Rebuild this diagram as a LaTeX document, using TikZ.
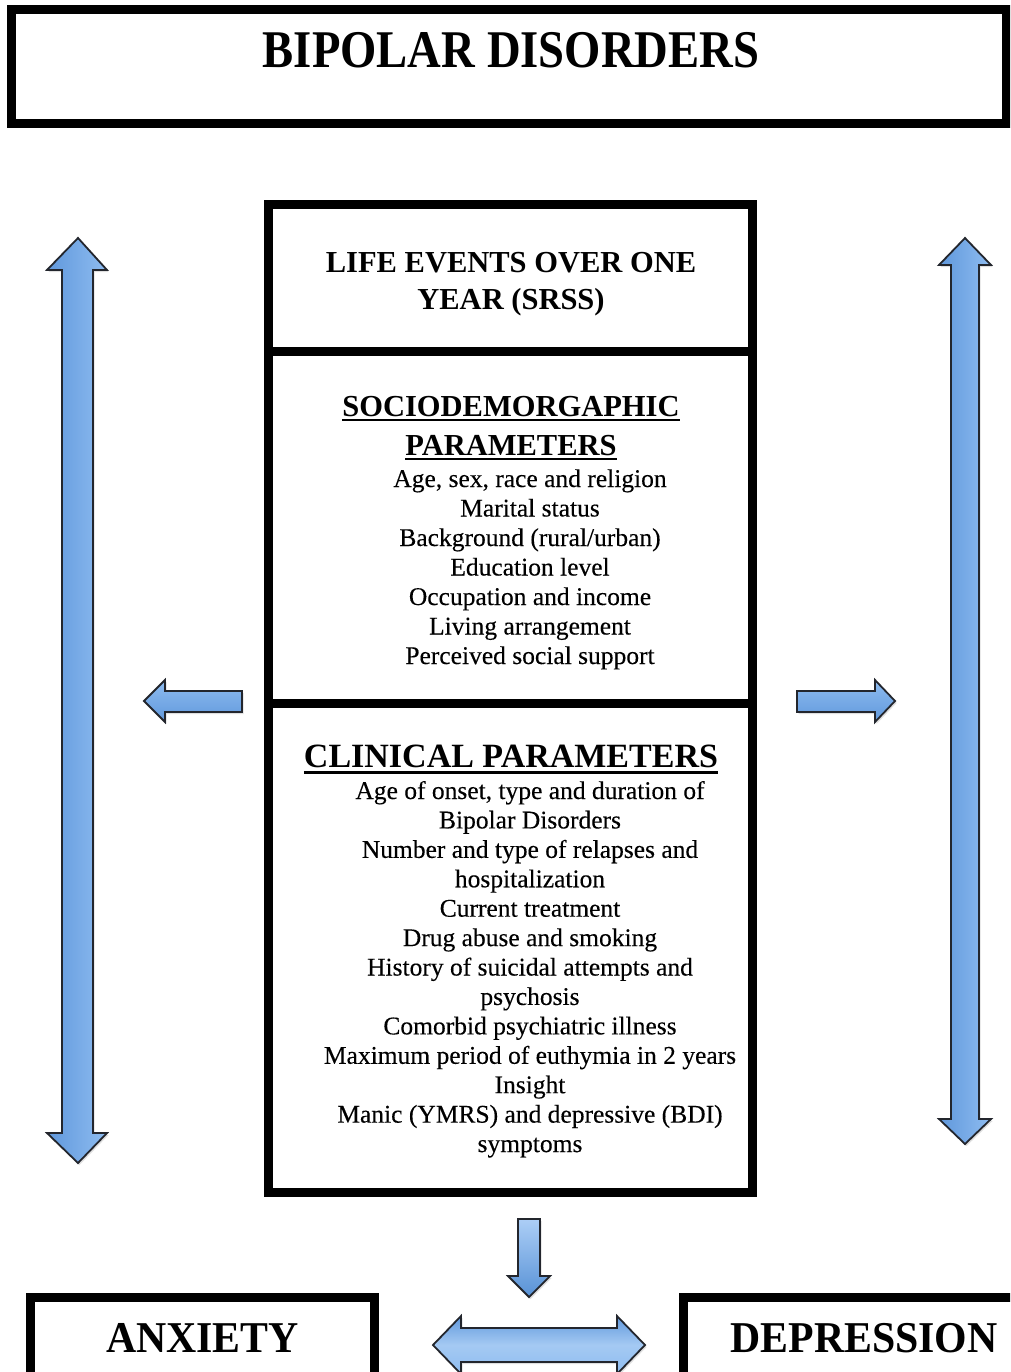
\documentclass[tikz,border=0pt]{standalone}
\usepackage{fontspec}
\usepackage{graphicx}
\setmainfont{Liberation Serif}
\newfontfamily\itemfont[FakeBold=0.25]{Liberation Serif}
\usetikzlibrary{shadows}
\definecolor{arrL}{RGB}{96,152,220}
\definecolor{arrR}{RGB}{142,188,240}
\definecolor{arrTop}{RGB}{172,206,246}
\definecolor{arrBot}{RGB}{88,146,214}
\definecolor{arrEdge}{RGB}{35,38,45}
\tikzset{
  framebox/.style={draw=black, line width=9pt, fill=none, inner sep=0pt, outer sep=0pt},
  txt/.style={inner sep=0pt, outer sep=0pt, anchor=base, text=black},
  head/.style={txt, font=\fontsize{30.5}{36}\selectfont\bfseries},
  item/.style={txt, font=\itemfont\fontsize{25.5}{29.5}\selectfont},
  uline/.style={line width=2pt, black},
  blockarrow/.style={draw=arrEdge, line width=1.8pt, line join=miter,
     drop shadow={opacity=0.25, shadow xshift=1.5pt, shadow yshift=-2pt}},
  varrow/.style={blockarrow, left color=arrL, right color=arrR},
  harrow/.style={blockarrow, top color=arrR, bottom color=arrL},
  darrow/.style={blockarrow, top color=arrTop, bottom color=arrBot},
  dblarrow/.style={blockarrow, top color=arrL, bottom color=arrR, middle color=arrR!80!white}
}
\begin{document}
\begin{tikzpicture}[x=1pt,y=-1pt]
\clip (0,0) rectangle (1010,1372);
\fill[white] (0,0) rectangle (1010,1372);

% title
\node[framebox, minimum width=995pt, minimum height=114pt] (titlebox) at (508.5,67) {};
\node[txt, font=\fontsize{53}{60}\selectfont\bfseries] (title) at (511,68) {\scalebox{0.88}[1]{BIPOLAR DISORDERS}};

% central column boxes
\node[framebox, minimum width=484pt, minimum height=147pt] (life) at (510,278) {};
\node[framebox, minimum width=484pt, minimum height=352pt] (socio) at (510,527.5) {};
\node[framebox, minimum width=484pt, minimum height=488.5pt] (clin) at (510,947.75) {};

% life events
\node[head] (l1) at (511,272) {LIFE EVENTS OVER ONE};
\node[head] (l2) at (511,309) {YEAR (SRSS)};

% sociodemographic
\node[head] (sh1) at (511,416) {SOCIODEMORGAPHIC};
\node[head] (sh2) at (511,455) {PARAMETERS};
\draw[uline] ([yshift=-4pt]sh1.base west) -- ([yshift=-4pt]sh1.base east);
\draw[uline] ([yshift=-4pt]sh2.base west) -- ([yshift=-4pt]sh2.base east);
\foreach \t [count=\i from 0] in {{Age, sex, race and religion},{Marital status},{Background (rural/urban)},{Education level},{Occupation and income},{Living arrangement},{Perceived social support}}
  \node[item] (s\i) at (530,487+29.5*\i) {\t};

% clinical
\node[txt, font=\fontsize{34}{40}\selectfont\bfseries] (ch) at (511,767) {CLINICAL PARAMETERS};
\draw[line width=2.5pt] ([yshift=-5.5pt]ch.base west) -- ([yshift=-5.5pt]ch.base east);
\foreach \t [count=\i from 0] in {{Age of onset, type and duration of},{Bipolar Disorders},{Number and type of relapses and},{hospitalization},{Current treatment},{Drug abuse and smoking},{History of suicidal attempts and},{psychosis},{Comorbid psychiatric illness},{Maximum period of euthymia in 2 years},{Insight},{Manic (YMRS) and depressive (BDI)},{symptoms}}
  \node[item] (c\i) at (530,799+29.42*\i) {\t};

% bottom boxes
\node[framebox, minimum width=344pt, minimum height=122.5pt] (anx) at (202.5,1358.75) {};
\node[framebox, minimum width=376.5pt, minimum height=122.5pt] (dep) at (871.75,1358.75) {};
\node[txt, font=\fontsize{44}{50}\selectfont\bfseries] (anxt) at (202.5,1352) {\scalebox{0.95}[1]{ANXIETY}};
\node[txt, font=\fontsize{44}{50}\selectfont\bfseries] (dept) at (864,1352) {\scalebox{0.95}[1]{DEPRESSION}};

% left vertical double arrow
\draw[varrow] (78,238) -- (107,270) -- (93,270) -- (93,1133) -- (107,1133) -- (78,1163)
  -- (47,1133) -- (62,1133) -- (62,270) -- (47,270) -- cycle;
% right vertical double arrow
\draw[varrow] (965,238) -- (991,265) -- (979,265) -- (979,1119) -- (991,1119) -- (965,1144)
  -- (939,1119) -- (951,1119) -- (951,265) -- (939,265) -- cycle;
% left small arrow
\draw[harrow] (144,701) -- (165,680) -- (165,691) -- (242,691) -- (242,712) -- (165,712) -- (165,722) -- cycle;
% right small arrow
\draw[harrow] (895,701) -- (875,680) -- (875,691) -- (797,691) -- (797,712) -- (875,712) -- (875,722) -- cycle;
% down arrow
\draw[darrow] (518,1219) -- (540,1219) -- (540,1276) -- (550,1276) -- (529,1297) -- (508,1276) -- (518,1276) -- cycle;
% horizontal double arrow
\draw[dblarrow] (433,1345) -- (461,1316) -- (461,1328) -- (617,1328) -- (617,1316) -- (645,1345)
  -- (617,1374) -- (617,1362) -- (461,1362) -- (461,1374) -- cycle;
\end{tikzpicture}
\end{document}
